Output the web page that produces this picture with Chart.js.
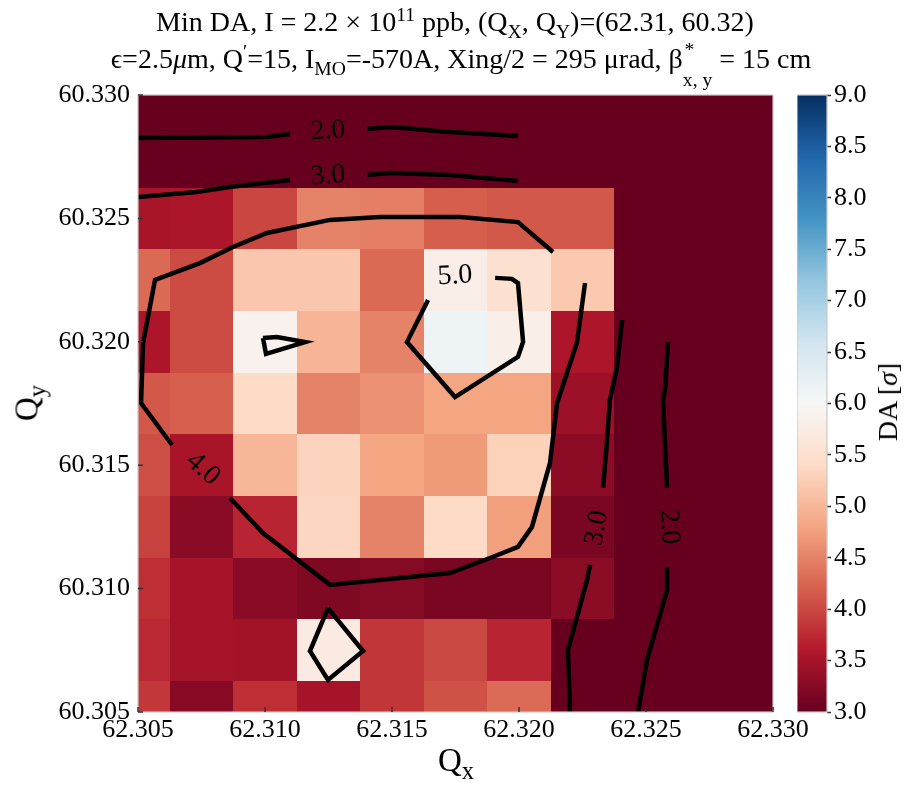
<!DOCTYPE html>
<html><head><meta charset="utf-8">
<script src="https://cdn.jsdelivr.net/npm/chart.js@4.4.1/dist/chart.umd.min.js"></script>
<style>
html,body{margin:0;padding:0;background:#fff;}
#wrap{position:relative;width:905px;height:786px;overflow:hidden;font-family:"Liberation Serif","Times New Roman",serif;color:#000;}
#main{position:absolute;left:0;top:0;}
#cbar{position:absolute;left:797px;top:0;}
.t{position:absolute;white-space:nowrap;font-size:28px;line-height:28px;transform:translateX(-50%);}
sup,sub{font-size:70%;line-height:0;}
.st{display:inline-block;position:relative;width:1.05em;height:0;}
.st .up{position:absolute;left:0.08em;bottom:0.42em;font-size:70%;line-height:1;}
.st .dn{position:absolute;left:0;top:0.08em;font-size:70%;line-height:1;white-space:nowrap;}
.ax{position:absolute;white-space:nowrap;font-size:33px;line-height:33px;}
.ax sub{font-size:75%;}
.cbl{position:absolute;white-space:nowrap;font-size:28px;line-height:28px;left:888px;top:402px;transform:translate(-50%,-50%) rotate(-90deg);}
</style></head>
<body>
<div id="wrap">
<canvas id="main" width="905" height="786"></canvas>
<canvas id="cbar" width="109" height="786"></canvas>
<div class="t" style="left:455px;top:8px;">Min DA, I = 2.2 × 10<sup>11</sup> ppb, (Q<sub>X</sub>, Q<sub>Y</sub>)=(62.31, 60.32)</div>
<div class="t" style="left:461px;top:45px;">ϵ=2.5<i>μ</i>m, Q<sup>′</sup>=15, I<sub>MO</sub>=-570A, Xing/2 = 295 μrad, β<span class="st"><span class="up">*</span><span class="dn">x, y</span></span> = 15 cm</div>
<div class="ax" style="left:456px;top:744px;transform:translateX(-50%);">Q<sub>x</sub></div>
<div class="ax" style="left:27px;top:403px;transform:translate(-50%,-50%) rotate(-90deg);">Q<sub>y</sub></div>
<div class="cbl">DA [<i>σ</i>]</div>
</div>
<script>
// ---- grid coordinates ----
const qx = [62.305, 62.3075, 62.310, 62.3125, 62.315, 62.3175, 62.320, 62.3225, 62.325, 62.3275, 62.330];
const qy = [60.305, 60.3075, 60.310, 60.3125, 60.315, 60.3175, 60.320, 60.3225, 60.325, 60.3275, 60.330];
// ---- DA [sigma] per Q_y row (bottom to top), one value per Q_x ----
const da_qy60305 = [3.87, 3.26, 3.78, 3.50, 3.85, 4.08, 4.30, 2.70, 1.90, 1.50, 1.00];
const da_qy60308 = [3.74, 3.50, 3.47, 5.72, 3.85, 4.00, 3.70, 2.75, 2.00, 1.50, 1.00];
const da_qy60310 = [3.78, 3.50, 3.28, 3.19, 3.24, 3.15, 3.15, 3.29, 2.20, 1.50, 1.00];
const da_qy60313 = [3.95, 3.28, 3.70, 5.35, 4.50, 5.40, 4.75, 3.15, 2.30, 1.50, 1.00];
const da_qy60315 = [4.05, 3.52, 4.99, 5.31, 4.80, 4.70, 5.30, 3.30, 2.40, 1.50, 1.00];
const da_qy60318 = [4.13, 4.20, 5.40, 4.50, 4.63, 4.80, 4.80, 3.42, 2.40, 1.50, 1.00];
const da_qy60320 = [3.56, 4.03, 5.87, 4.97, 4.50, 6.14, 5.81, 3.56, 2.50, 1.50, 1.00];
const da_qy60323 = [4.29, 4.03, 5.17, 5.17, 4.29, 5.80, 5.51, 5.20, 2.50, 1.50, 1.00];
const da_qy60325 = [3.52, 3.55, 3.98, 4.50, 4.47, 4.18, 4.13, 4.13, 2.40, 1.50, 1.00];
const da_qy60328 = [2.70, 2.70, 2.70, 2.70, 2.70, 2.70, 2.70, 2.70, 2.20, 1.50, 1.00];
const da_qy60330 = [0.50, 0.50, 0.50, 0.50, 0.50, 0.50, 0.50, 0.50, 0.50, 0.50, 0.50];
const daRows = [da_qy60305, da_qy60308, da_qy60310, da_qy60313, da_qy60315, da_qy60318, da_qy60320, da_qy60323, da_qy60325, da_qy60328, da_qy60330];
// ---- tick labels ----
const xTicks = [62.305, 62.310, 62.315, 62.320, 62.325, 62.330];
const yTicks = [60.305, 60.310, 60.315, 60.320, 60.325, 60.330];
const cbTicks = [3.0, 3.5, 4.0, 4.5, 5.0, 5.5, 6.0, 6.5, 7.0, 7.5, 8.0, 8.5, 9.0];
// ---- contour lines [Qx, Qy] (levels 2,3,4,5) ----
const c2_topA = [[62.30500,60.32826],[62.31008,60.32830],[62.31098,60.32842]];
const c2_topB = [[62.31402,60.32862],[62.31492,60.32870],[62.31728,60.32850],[62.31996,60.32834]];
const c3_topA = [[62.30500,60.32587],[62.30732,60.32607],[62.30862,60.32627],[62.31098,60.32656]];
const c3_topB = [[62.31402,60.32676],[62.31492,60.32684],[62.31728,60.32676],[62.31996,60.32652]];
const c4_A = [[62.30634,60.31582],[62.30512,60.31752],[62.30520,60.31995],[62.30567,60.32251],[62.30744,60.32319],[62.30874,60.32384],[62.31008,60.32441],[62.31256,60.32494],[62.31453,60.32506],[62.31768,60.32506],[62.31996,60.32485],[62.32134,60.32364]];
const c4_B = [[62.32260,60.32238],[62.32228,60.31995],[62.32150,60.31752],[62.32122,60.31509],[62.32051,60.31250],[62.31996,60.31169],[62.31886,60.31124],[62.31728,60.31063],[62.31256,60.31015],[62.30992,60.31225],[62.30862,60.31367]];
const c5_main = [[62.31906,60.32259],[62.31972,60.32255],[62.31996,60.32238],[62.32016,60.31999],[62.31996,60.31939],[62.31748,60.31776],[62.31559,60.31999],[62.31642,60.32169]];
const c5_small = [[62.30992,60.32015],[62.31047,60.32019],[62.31158,60.31999],[62.31004,60.31951],[62.30992,60.32015]];
const c5_island = [[62.31248,60.30921],[62.31386,60.30747],[62.31248,60.30630],[62.31177,60.30747],[62.31248,60.30921]];
const c3_rightA = [[62.32406,60.32088],[62.32386,60.31898],[62.32358,60.31764],[62.32346,60.31590],[62.32331,60.31408]];
const c3_rightB = [[62.32280,60.31096],[62.32268,60.31035],[62.32193,60.30751],[62.32201,60.30500]];
const c2_rightA = [[62.32587,60.31999],[62.32575,60.31805],[62.32567,60.31764],[62.32583,60.31408]];
const c2_rightB = [[62.32583,60.31088],[62.32583,60.30994],[62.32504,60.30711],[62.32469,60.30500]];
const contourSegments = [c2_topA, c2_topB, c3_topA, c3_topB, c4_A, c4_B, c5_main, c5_small, c5_island, c3_rightA, c3_rightB, c2_rightA, c2_rightB];
// ---- contour labels ----
const contourLabelText = ['2.0', '3.0', '4.0', '5.0', '3.0', '2.0'];
const contourLabelX = [62.31248, 62.31248, 62.30756, 62.31748, 62.32307, 62.32591];
const contourLabelY = [60.32854, 60.32672, 60.31485, 60.32267, 60.31246, 60.31250];

// ---- styles ----
const FONT = 'Liberation Serif';
const labelRotationDeg = [-3, -3, 42, -3, -80, 87];
const RDBU = ['#67001f','#b2182b','#d6604d','#f4a582','#fddbc7','#f7f7f7','#d1e5f0','#92c5de','#4393c3','#2166ac','#053061'];
const VMIN = 3, VMAX = 9;

function hex2rgb(h){return [parseInt(h.slice(1,3),16),parseInt(h.slice(3,5),16),parseInt(h.slice(5,7),16)];}
const RDBU_RGB = RDBU.map(hex2rgb);
function cmap(v){
  let t = (v - VMIN) / (VMAX - VMIN);
  t = Math.max(0, Math.min(1, t));
  const s = t * (RDBU.length - 1);
  const i = Math.min(RDBU.length - 2, Math.floor(s));
  const f = s - i;
  const a = RDBU_RGB[i], b = RDBU_RGB[i+1];
  return 'rgb(' + [0,1,2].map(c => Math.round(a[c] + (b[c]-a[c])*f)).join(',') + ')';
}

const heatmapPlugin = {
  id: 'heatmap',
  beforeDatasetsDraw(chart){
    const {ctx, chartArea:a, scales:{x:xs, y:ys}} = chart;
    const hx = (qx[1]-qx[0])/2, hy = (qy[1]-qy[0])/2;
    ctx.save();
    ctx.beginPath(); ctx.rect(a.left, a.top, a.right-a.left, a.bottom-a.top); ctx.clip();
    daRows.forEach((row, j) => {
      row.forEach((v, k) => {
        const x0 = Math.round(xs.getPixelForValue(qx[k]-hx));
        const x1 = Math.round(xs.getPixelForValue(qx[k]+hx));
        const y0 = Math.round(ys.getPixelForValue(qy[j]-hy));
        const y1 = Math.round(ys.getPixelForValue(qy[j]+hy));
        ctx.fillStyle = cmap(v);
        ctx.fillRect(x0, y1, x1-x0, y0-y1);
      });
    });
    ctx.restore();
  }
};

const framePlugin = {
  id: 'frame',
  afterDatasetsDraw(chart){
    const {ctx, chartArea:a, scales:{x:xs, y:ys}} = chart;
    ctx.save();
    ctx.font = '28px "' + FONT + '"';
    ctx.fillStyle = '#000'; ctx.textAlign = 'center'; ctx.textBaseline = 'middle';
    contourLabelText.forEach((t, i) => {
      const px = xs.getPixelForValue(contourLabelX[i]);
      const py = ys.getPixelForValue(contourLabelY[i]);
      ctx.save(); ctx.translate(px, py); ctx.rotate(labelRotationDeg[i]*Math.PI/180);
      ctx.fillText(t, 0, 0); ctx.restore();
    });
    ctx.strokeStyle = '#c8c8c8'; ctx.lineWidth = 1.2;
    ctx.strokeRect(a.left, a.top, a.right-a.left, a.bottom-a.top);
    ctx.strokeStyle = '#333'; ctx.lineWidth = 1.5;
    ctx.beginPath();
    xTicks.forEach(v => { const p = xs.getPixelForValue(v); ctx.moveTo(p, a.bottom); ctx.lineTo(p, a.bottom-5); });
    yTicks.forEach(v => { const p = ys.getPixelForValue(v); ctx.moveTo(a.left, p); ctx.lineTo(a.left+5, p); });
    ctx.stroke();
    ctx.restore();
  }
};

new Chart(document.getElementById('main'), {
  type: 'scatter',
  data: {
    datasets: contourSegments.map(seg => ({
      data: seg.map(p => ({x: p[0], y: p[1]})),
      showLine: true, borderColor: '#000', borderWidth: 4.5, pointRadius: 0,
      fill: false, tension: 0, borderJoinStyle: 'miter', borderCapStyle: 'butt'
    }))
  },
  options: {
    responsive: false, animation: false, events: [],
    layout: {padding: {left: 0, right: 132, top: 95, bottom: 0}},
    plugins: {legend: {display: false}, tooltip: {enabled: false}},
    scales: {
      x: {
        type: 'linear', min: qx[0], max: qx[qx.length-1], offset: false,
        afterBuildTicks: s => { s.ticks = xTicks.map(v => ({value: v})); },
        afterFit: s => { s.height = 74; },
        ticks: {callback: v => Number(v).toFixed(3), font: {family: FONT, size: 26}, color: '#000', padding: 3, maxRotation: 0, autoSkip: false},
        grid: {display: false, drawTicks: false}, border: {display: false}
      },
      y: {
        type: 'linear', min: qy[0], max: qy[qy.length-1], offset: false,
        afterBuildTicks: s => { s.ticks = yTicks.map(v => ({value: v})); },
        afterFit: s => { s.width = 138; },
        ticks: {callback: v => Number(v).toFixed(3), font: {family: FONT, size: 26}, color: '#000', padding: 8, autoSkip: false},
        grid: {display: false, drawTicks: false}, border: {display: false}
      }
    }
  },
  plugins: [heatmapPlugin, framePlugin]
});

const cbarPlugin = {
  id: 'cbarFill',
  beforeDatasetsDraw(chart){
    const {ctx, chartArea:a, scales:{y:ys}} = chart;
    const g = ctx.createLinearGradient(0, ys.getPixelForValue(VMIN), 0, ys.getPixelForValue(VMAX));
    RDBU.forEach((c, i) => g.addColorStop(i/(RDBU.length-1), c));
    ctx.save();
    ctx.fillStyle = g;
    ctx.fillRect(a.left, a.top, a.right-a.left, a.bottom-a.top);
    ctx.strokeStyle = '#c8c8c8'; ctx.lineWidth = 1.2;
    ctx.strokeRect(a.left, a.top, a.right-a.left, a.bottom-a.top);
    ctx.restore();
  }
};

new Chart(document.getElementById('cbar'), {
  type: 'scatter',
  data: {datasets: []},
  options: {
    responsive: false, animation: false, events: [],
    layout: {padding: {left: 0, right: 0, top: 95, bottom: 74}},
    plugins: {legend: {display: false}, tooltip: {enabled: false}},
    scales: {
      x: {display: false, min: 0, max: 1},
      y: {
        position: 'right', min: VMIN, max: VMAX,
        afterBuildTicks: s => { s.ticks = cbTicks.map(v => ({value: v})); },
        afterFit: s => { s.width = 79; },
        ticks: {callback: v => Number(v).toFixed(1), font: {family: FONT, size: 26}, color: '#000', padding: 3, autoSkip: false},
        grid: {drawOnChartArea: false, drawTicks: true, tickLength: 4, tickColor: '#333', tickWidth: 1.5},
        border: {display: false}
      }
    }
  },
  plugins: [cbarPlugin]
});
</script>
</body></html>
